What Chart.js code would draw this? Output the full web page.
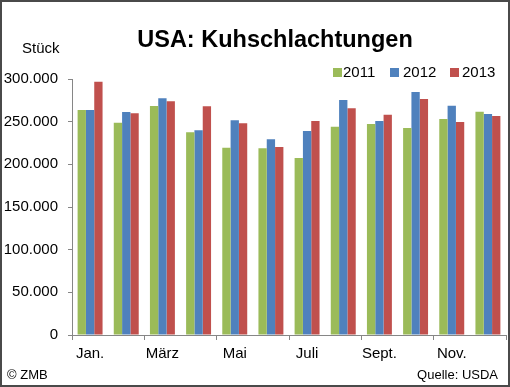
<!DOCTYPE html>
<html>
<head>
<meta charset="utf-8">
<script src="https://cdn.jsdelivr.net/npm/chart.js@4"></script>
<style>
  html, body { margin:0; padding:0; background:#fff; }
  #wrap { position:relative; width:510px; height:387px; font-family:"Liberation Sans", Arial, sans-serif; color:#000; }
  #frame { position:absolute; left:0; top:0; width:510px; height:387px; box-sizing:border-box; border:2px solid #4a4a4a; pointer-events:none; z-index:5; }
  canvas { position:absolute; left:0; top:0; }
  .t { position:absolute; white-space:nowrap; line-height:1; }
  .lg { position:absolute; top:64px; font-size:15px; line-height:15px; }
  .sw { position:absolute; top:68px; width:9px; height:9px; }
</style>
</head>
<body>
<div id="wrap">
  <canvas id="c" width="510" height="387"></canvas>
  <div class="t" style="left:0;width:550px;text-align:center;top:28px;font-size:23.5px;font-weight:bold;">USA: Kuhschlachtungen</div>
  <div class="t" style="left:22px;top:40px;font-size:15px;">Stück</div>
  <div id="legend"></div>
  <div class="t" style="left:7px;top:368px;font-size:13px;">© ZMB</div>
  <div class="t" style="right:12px;top:368px;font-size:13px;">Quelle: USDA</div>
  <div id="frame"></div>
</div>
<script>
const months = ['Jan.','Feb.','März','April','Mai','Juni','Juli','Aug.','Sept.','Okt.','Nov.','Dez.'];
const seriesNames = ['2011','2012','2013'];
const values2011 = [263700, 248800, 268400, 237500, 219500, 218800, 207400, 244100, 247300, 242600, 253100, 261700];
const values2012 = [263700, 261300, 277300, 239900, 251600, 229300, 239100, 275400, 250800, 284800, 268700, 259000];
const values2013 = [296900, 259800, 273800, 268000, 248100, 220300, 250800, 265700, 258200, 276600, 249600, 256600];
const yTicks = [0, 50000, 100000, 150000, 200000, 250000, 300000];
const colors = ['#9BBB59', '#4F81BD', '#C0504D'];

function fmt(v){ return String(v).replace(/\B(?=(\d{3})+(?!\d))/g, '.'); }

// HTML legend
const legendPos = [[333,343],[390,403],[450,462]];
const lg = document.getElementById('legend');
seriesNames.forEach((n,i)=>{
  const s = document.createElement('div'); s.className='sw'; s.style.left=legendPos[i][0]+'px'; s.style.background=colors[i]; lg.appendChild(s);
  const t = document.createElement('div'); t.className='lg'; t.style.left=legendPos[i][1]+'px'; t.textContent=n; lg.appendChild(t);
});

const font = { family: '"Liberation Sans", Arial, sans-serif', size: 15 };
new Chart(document.getElementById('c'), {
  type: 'bar',
  data: {
    labels: months,
    datasets: [values2011, values2012, values2013].map((d,i)=>({
      label: seriesNames[i], data: d, backgroundColor: colors[i], borderWidth: 0,
      categoryPercentage: 0.69, barPercentage: 1.0
    }))
  },
  options: {
    responsive: false, animation: false,
    layout: { padding: { top: 79, right: 4, left: 0, bottom: 0 } },
    plugins: { legend: { display: false }, tooltip: { enabled: false }, title: { display: false } },
    scales: {
      x: {
        offset: true,
        afterFit: s => { s.height = 52; },
        grid: {
          display: true, drawOnChartArea: false, drawTicks: true, tickLength: 5,
          color: c => (c.index === undefined || c.index % 2 === 0) ? '#868686' : 'rgba(0,0,0,0)',
          offset: true
        },
        border: { display: true, color: '#868686', width: 1 },
        ticks: {
          autoSkip: false, maxRotation: 0, minRotation: 0, padding: 5, color: '#000', font,
          callback: (v, i) => i % 2 === 0 ? months[i] : ''
        }
      },
      y: {
        min: 0, max: 300000,
        afterFit: s => { s.width = 72; },
        afterBuildTicks: s => { s.ticks = yTicks.map(v => ({ value: v })); },
        grid: { display: true, drawOnChartArea: false, drawTicks: true, tickLength: 4, color: '#868686' },
        border: { display: true, color: '#868686', width: 1 },
        ticks: { padding: 10, color: '#000', font, callback: v => fmt(v) }
      }
    }
  }
});
</script>
</body>
</html>
